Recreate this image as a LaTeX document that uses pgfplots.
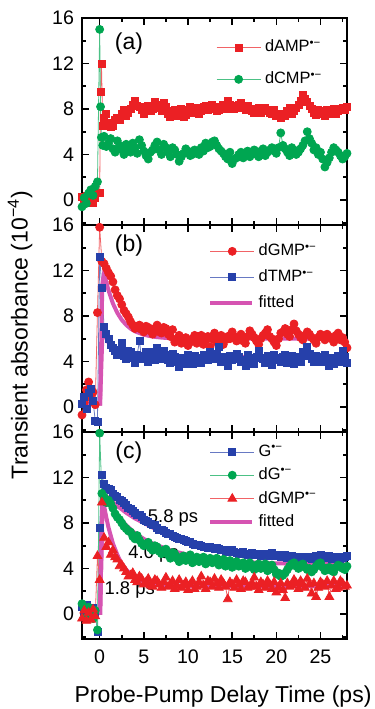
\documentclass[border=0pt]{standalone}
\usepackage{fontspec}
\setmainfont{Liberation Sans}
\usepackage{pgfplots}
\pgfplotsset{compat=1.18}
\usepackage{pgfplotstable}
\definecolor{cred}{RGB}{235,32,36}
\definecolor{cgreen}{RGB}{0,166,81}
\definecolor{cblue}{RGB}{38,64,170}
\definecolor{cfit}{RGB}{214,84,178}

\pgfplotstableread{
x amp cmp
-2.0 0.3 -0.6
-1.75 -0.2 0.2
-1.5 0.4 -0.3
-1.25 0.1 0.6
-1.0 0.5 0.9
-0.75 -0.3 0.4
-0.5 0.2 1.2
-0.25 0.6 1.6
0.0 0.6 15.0
0.1 9.5 8.2
0.2 12.0 5.5
0.35 6.5 4.8
0.5 7.2 5.6
0.75 7.6 4.7
1.0 6.8 5.0
1.25 6.4 5.4
1.5 6.5 4.5
1.75 7.0 4.2
2.0 7.2 5.2
2.25 7.0 4.8
2.5 7.6 4.4
2.75 7.9 4.0
3.0 7.4 4.9
3.25 7.7 4.5
3.5 8.0 4.2
3.75 8.4 5.0
4.0 8.7 4.6
4.25 8.3 4.1
4.5 8.2 5.3
4.75 7.9 4.8
5.0 7.6 4.3
5.25 8.0 3.9
5.5 8.3 3.6
5.75 7.8 4.2
6.0 8.0 4.4
6.25 8.6 4.8
6.5 8.4 5.1
6.75 8.1 4.4
7.0 7.8 4.0
7.25 8.5 4.9
7.5 8.2 4.6
7.75 7.6 4.2
8.0 7.3 3.8
8.25 7.8 4.6
8.5 7.9 4.4
8.75 7.4 4.0
9.0 7.6 3.4
9.25 8.0 3.8
9.5 7.3 4.1
9.75 7.5 4.5
10.0 7.9 4.3
10.25 8.2 3.9
10.5 7.7 4.0
10.75 7.9 4.4
11.0 8.1 4.2
11.25 7.6 4.0
11.5 7.8 4.6
11.75 8.2 4.3
12.0 8.3 5.0
12.25 7.9 4.6
12.5 8.0 4.7
12.75 8.4 5.1
13.0 8.2 5.2
13.25 7.8 4.8
13.5 7.9 4.5
13.75 8.2 4.3
14.0 8.4 4.1
14.25 8.0 3.8
14.5 8.7 3.6
14.75 8.4 4.2
15.0 8.3 3.2
15.25 8.0 3.6
15.5 8.1 3.7
15.75 8.4 4.0
16.0 8.5 4.2
16.25 8.1 3.7
16.5 7.9 4.0
16.75 8.3 4.3
17.0 8.0 3.8
17.25 7.8 4.1
17.5 7.7 4.4
17.75 8.0 4.0
18.0 8.1 3.8
18.25 7.7 4.3
18.5 7.8 4.5
18.75 8.1 3.9
19.0 7.9 4.2
19.25 7.7 4.4
19.5 7.6 4.6
19.75 7.9 4.3
20.0 7.4 4.1
20.25 7.6 4.6
20.5 7.2 5.9
20.75 7.5 4.8
21.0 7.4 4.5
21.25 7.8 4.2
21.5 8.1 3.9
21.75 7.6 4.6
22.0 7.8 4.4
22.25 8.1 4.0
22.5 8.4 4.2
22.75 8.7 4.5
23.0 9.2 4.8
23.25 8.9 5.2
23.5 8.6 6.0
23.75 8.3 5.4
24.0 8.0 5.0
24.25 7.7 4.4
24.5 7.5 4.6
24.75 7.9 4.0
25.0 7.8 4.2
25.25 7.6 3.6
25.5 7.4 2.9
25.75 7.9 3.3
26.0 7.6 3.7
26.25 7.8 4.2
26.5 8.0 4.6
26.75 7.6 4.4
27.0 7.8 4.2
27.25 8.0 3.9
27.5 8.1 3.6
27.75 7.9 3.8
28.0 8.2 4.1
}\tabA

\pgfplotstableread{
x gmp tmp
-2.0 -0.7 0.3
-1.75 0.4 0.9
-1.5 1.5 -0.2
-1.25 2.2 1.2
-1.0 0.8 1.6
-0.75 1.3 0.5
-0.5 0.2 -1.2
-0.25 8.3 -1.3
0.0 15.8 13.2
0.25 12.8 10.5
0.5 12.6 7.0
0.75 12.2 6.4
1.0 11.8 6.0
1.25 11.5 5.5
1.5 11.0 5.2
1.75 10.3 4.9
2.0 9.8 4.6
2.25 9.5 5.0
2.5 9.0 5.6
2.75 8.5 4.5
3.0 8.2 4.2
3.25 7.9 4.9
3.5 7.5 4.8
3.75 7.2 4.3
4.0 6.9 3.9
4.25 7.0 4.6
4.5 7.2 5.8
4.75 6.8 4.2
5.0 6.6 4.5
5.25 7.1 4.8
5.5 7.0 4.0
5.75 6.7 4.4
6.0 6.4 4.8
6.25 6.9 4.1
6.5 7.2 5.2
6.75 6.6 4.6
7.0 6.5 4.2
7.25 7.0 4.9
7.5 6.9 4.6
7.75 6.4 4.1
8.0 6.2 3.9
8.25 6.8 4.7
8.5 5.7 4.4
8.75 6.0 4.0
9.0 6.3 3.5
9.25 5.6 4.3
9.5 5.8 4.1
9.75 6.1 3.8
10.0 5.4 4.6
10.25 5.7 4.2
10.5 6.0 3.8
10.75 6.3 4.5
11.0 5.6 4.3
11.25 5.9 4.0
11.5 6.3 3.9
11.75 5.5 4.6
12.0 5.9 4.5
12.25 6.2 4.1
12.5 5.3 4.8
12.75 6.0 4.4
13.0 6.5 4.2
13.25 5.7 4.7
13.5 6.0 5.3
13.75 6.3 4.0
14.0 5.5 4.4
14.25 5.9 4.3
14.5 6.2 3.6
14.75 6.0 4.5
15.0 6.6 4.1
15.25 6.2 4.2
15.5 5.8 4.7
15.75 6.1 4.4
16.0 6.4 4.0
16.25 5.8 4.1
16.5 5.6 3.6
16.75 6.2 4.6
17.0 6.7 4.3
17.25 6.4 4.0
17.5 6.1 3.8
17.75 5.8 4.4
18.0 5.5 4.9
18.25 6.0 4.3
18.5 6.3 4.2
18.75 6.5 3.9
19.0 6.8 4.5
19.25 6.2 4.2
19.5 6.0 3.7
19.75 5.7 4.6
20.0 5.4 4.3
20.25 6.0 4.1
20.5 6.5 4.0
20.75 6.6 4.4
21.0 6.9 4.6
21.25 6.4 3.9
21.5 6.2 4.1
21.75 6.8 4.5
22.0 7.3 3.8
22.25 6.7 4.2
22.5 6.4 4.4
22.75 6.1 4.0
23.0 5.9 4.8
23.25 6.3 4.5
23.5 6.6 5.3
23.75 6.4 4.7
24.0 6.1 4.2
24.25 5.9 4.0
24.5 5.6 4.5
24.75 6.1 4.3
25.0 6.4 4.0
25.25 6.2 4.4
25.5 5.9 4.6
25.75 6.4 4.1
26.0 6.2 3.6
26.25 6.0 4.3
26.5 5.7 3.8
26.75 6.3 4.2
27.0 6.5 4.5
27.25 5.9 4.0
27.5 6.1 4.9
27.75 5.7 4.4
28.0 5.2 3.9
}\tabB

\pgfplotstableread{
x G dG gmp
-2.0 0.6 0.9 -0.4
-1.75 0.2 0.5 0.3
-1.5 0.8 -0.3 -0.6
-1.25 0.3 0.6 0.1
-1.0 -0.2 0.2 -0.5
-0.75 0.5 -0.4 0.4
-0.5 0.1 0.3 -0.2
-0.25 -1.6 -1.4 5.1
0.0 7.6 15.9 3.0
0.25 12.2 10.6 9.8
0.5 11.4 10.3 6.7
0.75 11.1 9.8 5.9
1.0 11.0 10.0 6.3
1.25 10.9 9.7 5.2
1.5 10.6 9.3 5.6
1.75 10.4 8.8 5.0
2.0 10.3 8.5 4.8
2.25 10.0 8.3 4.2
2.5 9.9 8.0 4.3
2.75 9.8 7.7 4.0
3.0 9.6 7.5 3.7
3.25 9.3 7.3 3.3
3.5 9.2 7.2 3.4
3.75 9.1 6.8 3.6
4.0 8.9 6.6 3.0
4.25 8.7 6.9 2.8
4.5 8.7 6.5 3.3
4.75 8.5 6.2 3.1
5.0 8.3 6.0 2.6
5.25 8.2 6.1 2.8
5.5 8.1 6.3 3.1
5.75 7.9 5.8 2.5
6.0 7.8 5.6 2.4
6.25 7.8 6.0 3.0
6.5 7.6 5.9 2.9
6.75 7.4 5.5 2.6
7.0 7.4 5.3 2.3
7.25 7.3 5.6 2.8
7.5 7.1 5.7 3.2
7.75 7.0 5.2 2.4
8.0 7.0 4.9 2.6
8.25 6.9 5.4 2.9
8.5 6.8 5.3 2.2
8.75 6.7 4.9 2.5
9.0 6.6 4.6 3.0
9.25 6.6 5.0 2.3
9.5 6.5 5.1 2.5
9.75 6.4 4.7 2.8
10.0 6.3 4.9 2.1
10.25 6.3 5.2 2.6
10.5 6.2 4.5 2.9
10.75 6.1 4.8 2.2
11.0 6.1 5.0 2.4
11.25 6.1 4.6 2.8
11.5 6.0 4.7 3.3
11.75 5.9 5.0 2.5
12.0 5.9 4.4 2.2
12.25 5.8 4.7 2.9
12.5 5.9 4.9 2.8
12.75 5.8 4.5 2.4
13.0 5.7 4.6 3.1
13.25 5.8 4.9 2.7
13.5 5.7 4.3 2.3
13.75 5.6 4.6 3.0
14.0 5.6 4.8 2.7
14.25 5.5 4.2 2.4
14.5 5.5 4.4 1.3
14.75 5.6 4.7 2.8
15.0 5.6 4.1 2.6
15.25 5.5 4.4 2.3
15.5 5.4 4.6 3.0
15.75 5.3 4.2 2.6
16.0 5.4 4.3 2.2
16.25 5.5 4.5 2.9
16.5 5.3 4.0 2.8
16.75 5.2 4.2 2.3
17.0 5.3 4.5 2.4
17.25 5.4 4.1 2.7
17.5 5.2 3.9 3.2
17.75 5.2 4.3 2.4
18.0 5.3 4.4 2.1
18.25 5.1 4.0 2.8
18.5 5.1 4.1 2.6
18.75 5.3 4.4 2.3
19.0 5.2 3.8 2.9
19.25 5.1 4.1 2.6
19.5 5.4 4.3 2.2
19.75 5.2 3.9 2.8
20.0 5.1 3.5 1.9
20.25 5.2 3.6 2.3
20.5 5.0 3.3 2.7
20.75 5.0 3.4 2.1
21.0 5.2 3.6 1.4
21.25 4.9 3.9 2.7
21.5 5.0 4.2 2.4
21.75 5.1 4.4 2.5
22.0 4.9 4.5 3.0
22.25 4.9 4.2 2.7
22.5 5.0 4.0 2.2
22.75 4.8 4.3 2.9
23.0 4.8 4.4 2.6
23.25 5.0 4.1 2.3
23.5 5.0 3.9 3.1
23.75 4.9 4.0 2.6
24.0 4.8 3.7 1.8
24.25 5.0 3.9 2.7
24.5 5.1 4.2 1.5
24.75 4.8 4.4 2.3
25.0 5.2 4.5 2.8
25.25 4.9 4.1 2.6
25.5 4.9 3.8 2.4
25.75 5.0 4.0 2.9
26.0 5.1 4.1 1.5
26.25 4.8 3.8 2.5
26.5 4.8 3.7 2.9
26.75 5.0 4.1 2.2
27.0 5.0 4.3 2.3
27.25 4.8 4.2 2.9
27.5 4.9 4.0 2.7
27.75 5.0 3.9 2.4
28.0 5.1 4.2 2.5
}\tabC

\pgfplotsset{
  panel/.style={
    scale only axis, width=132.5pt, height=103.5pt,
    xmin=-2, xmax=28, ymin=-2.2, ymax=16,
    xtick={0,5,...,25}, ytick={0,4,...,16},
    minor xtick={2.5,7.5,...,27.5}, minor ytick={-2,2,6,10,14},
    tick align=inside, major tick length=3.5pt, minor tick length=2pt,
    every tick/.style={black, line width=0.8pt},
    axis line style={line width=1pt},
    tick label style={font=\fontsize{9.8}{10}\selectfont},
    /pgf/number format/assume math mode=true,
    yticklabel style={xshift=-0.5pt},
    xticklabel style={yshift=-2pt},
    legend style={draw=none, fill=none, inner sep=0pt,
      font=\fontsize{8.2}{9}\selectfont},
    legend cell align=left,
  },
  dline/.style={line width=0.4pt},
  limg/.style={legend image code/.code={\draw[mark repeat=2,mark phase=2] plot coordinates {(0pt,0pt) (11pt,0pt) (22pt,0pt)};}},
  fimg/.style={legend image code/.code={\draw[line width=2pt] (0pt,0pt) -- (21pt,0pt);}},
  sq/.style={mark=square*, mark size=1.75pt},
  ci/.style={mark=*, mark size=2pt},
  tr/.style={mark=triangle*, mark size=2.5pt},
}

\begin{document}
\begin{tikzpicture}
\path[use as bounding box] (-41pt,-35pt) rectangle (146.5pt,319.5pt);

% panel (a)
\begin{axis}[panel, at={(0,207pt)}, xticklabels={},
  legend style={at={(0.505,0.915)}, anchor=north west, row sep=4.5pt}]
\addplot[dline, color=cred!70, sq, mark options={solid, fill=cred, draw=cred}, limg]
  table[x=x,y=amp]{\tabA};
\addlegendentry{dAMP\textsuperscript{•−}}
\addplot[dline, color=cgreen!70, ci, mark options={solid, fill=cgreen, draw=cgreen}, limg]
  table[x=x,y=cmp]{\tabA};
\addlegendentry{dCMP\textsuperscript{•−}}
\node[font=\fontsize{11.5}{12}\selectfont] at (rel axis cs:0.177,0.875) {(a)};
\end{axis}

% panel (b)
\begin{axis}[panel, at={(0,103.5pt)}, xticklabels={},
  legend style={at={(0.475,0.93)}, anchor=north west, row sep=1.5pt}]
\addplot[dline, color=cred!70, ci, mark options={solid, fill=cred, draw=cred}, limg]
  table[x=x,y=gmp]{\tabB};
\addlegendentry{dGMP\textsuperscript{•−}}
\addplot[dline, color=cblue!70, sq, mark options={solid, fill=cblue, draw=cblue}, limg]
  table[x=x,y=tmp]{\tabB};
\addlegendentry{dTMP\textsuperscript{•−}}
\addplot[line width=2pt, color=cfit, fimg] coordinates {
(-2,0.3) (0.05,0.3) (0.3,10.8) (0.5,11.8) (0.75,11.0) (1,10.25) (1.5,9.1) (2,8.27) (2.5,7.66) (3,7.22) (3.5,6.89) (4,6.65) (5,6.35) (6,6.19) (7,6.1) (8,6.05) (10,6.01) (28,6.0)};
\addlegendentry{fitted}
\addplot[line width=2pt, color=cfit, forget plot] coordinates {
(-2,0.3) (0.05,0.3) (0.3,6.2) (0.5,6.6) (0.75,6.07) (1,5.66) (1.5,5.12) (2,4.82) (2.5,4.64) (3,4.54) (4,4.44) (5,4.41) (28,4.4)};
\node[font=\fontsize{11.5}{12}\selectfont] at (rel axis cs:0.177,0.9) {(b)};
\end{axis}

% panel (c)
\begin{axis}[panel, at={(0,0)},
  legend style={at={(0.475,0.96)}, anchor=north west, row sep=0.3pt}]
\addplot[dline, color=cblue!70, sq, mark options={solid, fill=cblue, draw=cblue}, limg]
  table[x=x,y=G]{\tabC};
\addlegendentry{G\textsuperscript{•−}}
\addplot[dline, color=cgreen!70, ci, mark options={solid, fill=cgreen, draw=cgreen}, limg]
  table[x=x,y=dG]{\tabC};
\addlegendentry{dG\textsuperscript{•−}}
\addplot[dline, color=cred!70, tr, mark options={solid, fill=cred, draw=cred}, limg]
  table[x=x,y=gmp]{\tabC};
\addlegendentry{dGMP\textsuperscript{•−}}
\addplot[line width=2pt, color=cfit, fimg] coordinates {
(-2,0.1) (0.05,0.1) (0.3,9.5) (0.5,10.5) (1,10.2) (2,9.5) (3,8.9) (4,8.4) (5,8.0) (6,7.6) (7,7.25) (8,6.95) (10,6.45) (12,6.05) (14,5.75) (16,5.5) (18,5.3) (20,5.15) (22,5.05) (24,4.95) (26,4.9) (28,4.85)};
\addlegendentry{fitted}
\addplot[line width=2pt, color=cfit, forget plot] coordinates {
(-2,0.1) (0.05,0.1) (0.3,9.5) (0.5,10.3) (1,9.7) (2,8.6) (3,7.8) (4,7.1) (5,6.6) (6,6.2) (7,5.9) (8,5.6) (10,5.2) (12,4.95) (14,4.75) (16,4.6) (18,4.5) (20,4.45) (24,4.4) (28,4.35)};
\addplot[line width=2pt, color=cfit, forget plot] coordinates {
(-2,0.1) (0.05,0.1) (0.3,9.0) (0.5,9.5) (0.75,8.5) (1,7.6) (1.5,6.2) (2,5.2) (2.5,4.4) (3,3.9) (3.5,3.5) (4,3.2) (5,2.85) (6,2.65) (7,2.55) (8,2.5) (10,2.45) (28,2.45)};
\node[font=\fontsize{11.5}{12}\selectfont] at (rel axis cs:0.177,0.9) {(c)};
\node[font=\fontsize{9.2}{10}\selectfont] at (axis cs:8.3,8.4) {5.8 ps};
\node[font=\fontsize{9.2}{10}\selectfont] at (axis cs:6.1,5.3) {4.0 ps};
\node[font=\fontsize{9.2}{10}\selectfont] at (axis cs:3.4,2.1) {1.8 ps};
\end{axis}

\node[rotate=90, font=\fontsize{11.5}{12}\selectfont] at (-31pt,152pt) {Transient absorbance (10\textsuperscript{−4})};
\node[font=\fontsize{11.5}{12}\selectfont] at (70.5pt,-29pt) {Probe-Pump Delay Time (ps)};
\end{tikzpicture}
\end{document}
